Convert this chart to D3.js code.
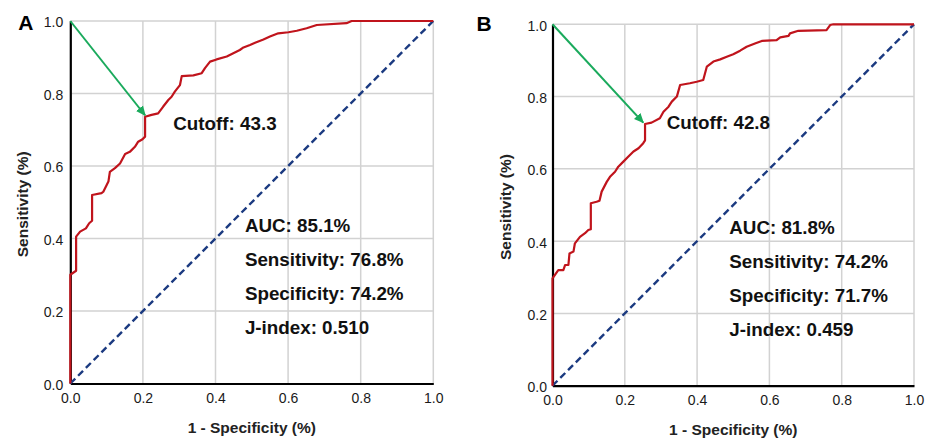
<!DOCTYPE html>
<meta charset="utf-8">
<script src="https://d3js.org/d3.v7.min.js"></script>
<style>
  body { margin: 0; background: #fff; }
  svg { display: block; font-family: "Liberation Sans", Arial, sans-serif; }
  .grid line { stroke: #d2d2d2; stroke-width: 1.5px; }
  .tick text { fill: #1a1a1a; font-size: 14px; }
</style>
<body>
<div id="chart"></div>
</body>
<script>
// values
const ticks = [0, 0.2, 0.4, 0.6, 0.8, 1.0];

// panel A ROC curve
const aFpr = [0, 0, .016, .016, .027, .043, .052, .06, .06, .086, .091, .105, .109, .123, .137, .151, .164, .178, .187, .199,
  .206, .206, .224, .242, .256, .270, .279, .288, .302, .307, .339, .362, .371, .385, .403, .431, .449, .467, .477, .495,
  .509, .532, .550, .573, .601, .624, .651, .679, .761, .775, 1];
const aTpr = [0, .30, .311, .405, .419, .428, .442, .449, .52, .525, .529, .557, .584, .594, .607, .633, .639, .653, .667, .674,
  .681, .736, .741, .745, .764, .782, .791, .805, .823, .848, .850, .856, .870, .888, .894, .902, .911, .920, .927, .934,
  .940, .949, .957, .966, .969, .973, .980, .989, .994, 1, 1];
const aCutoff = [0.206, 0.74];
const aStats = ["AUC: 85.1%", "Sensitivity: 76.8%", "Specificity: 74.2%", "J-index: 0.510"];
const aCutLabel = "Cutoff: 43.3";

// panel B ROC curve
const bFpr = [0, 0, .016, .030, .035, .044, .047, .058, .062, .076, .090, .099, .106, .106, .122, .130, .136, .150, .159, .173,
  .182, .196, .210, .224, .238, .251, .256, .256, .274, .297, .307, .321, .330, .344, .353, .380, .399, .417, .427, .445,
  .464, .482, .500, .519, .537, .560, .579, .620, .630, .653, .657, .680, .758, .768, .777, 1];
const bTpr = [0, .297, .320, .320, .334, .334, .366, .371, .394, .412, .422, .431, .433, .505, .509, .512, .537, .564, .578, .592,
  .606, .620, .634, .648, .657, .671, .679, .724, .728, .740, .758, .772, .786, .800, .832, .837, .841, .846, .883, .897,
  .903, .910, .917, .927, .938, .947, .954, .956, .964, .968, .975, .982, .984, .998, 1, 1];
const bCutoff = [0.251, 0.728];
const bStats = ["AUC: 81.8%", "Sensitivity: 74.2%", "Specificity: 71.7%", "J-index: 0.459"];
const bCutLabel = "Cutoff: 42.8";

const W = 928, H = 441;

const svg = d3.select("#chart").append("svg")
  .attr("width", W)
  .attr("height", H);

svg.append("defs").append("marker")
  .attr("id", "arrow")
  .attr("viewBox", "0 -5 10 10")
  .attr("refX", 9)
  .attr("refY", 0)
  .attr("markerUnits", "userSpaceOnUse")
  .attr("markerWidth", 10)
  .attr("markerHeight", 10)
  .attr("orient", "auto")
  .append("path")
  .attr("d", "M0,-4.5L10,0L0,4.5Z")
  .attr("fill", "#1aaa5c");

function drawPanel(p) {
  const g = svg.append("g").attr("transform", `translate(${p.left},${p.top})`);
  const x = d3.scaleLinear().domain([0, 1]).range([0, p.w]);
  const y = d3.scaleLinear().domain([0, 1]).range([p.h, 0]);

  // grid
  g.append("g").attr("class", "grid")
    .selectAll("line.v").data(ticks.slice(1)).join("line")
    .attr("x1", d => x(d)).attr("x2", d => x(d))
    .attr("y1", 0).attr("y2", p.h);
  g.append("g").attr("class", "grid")
    .selectAll("line.h").data(ticks.slice(1)).join("line")
    .attr("y1", d => y(d)).attr("y2", d => y(d))
    .attr("x1", 0).attr("x2", p.w);

  // axes
  const xAxis = g.append("g")
    .attr("transform", `translate(0,${p.h})`)
    .call(d3.axisBottom(x).tickValues(ticks).tickFormat(d3.format(".1f")).tickSize(0).tickPadding(9.5));
  xAxis.select(".domain").attr("stroke", "#000").attr("stroke-width", 2.2);
  xAxis.selectAll("text").attr("font-family", null).attr("font-size", null);

  const yAxis = g.append("g")
    .call(d3.axisLeft(y).tickValues(ticks).tickFormat(d3.format(".1f")).tickSize(0).tickPadding(p.ypad));
  yAxis.select(".domain").attr("stroke", "#000").attr("stroke-width", 2.2);
  yAxis.selectAll("text").attr("font-family", null).attr("font-size", null).attr("dy", "0.42em");

  // reference diagonal
  g.append("line")
    .attr("x1", x(0)).attr("y1", y(0))
    .attr("x2", x(1)).attr("y2", y(1))
    .attr("stroke", "#1b3a80")
    .attr("stroke-width", 2.4)
    .attr("stroke-dasharray", "7,4");

  // ROC curve
  const pts = p.fpr.map((f, i) => [f, p.tpr[i]]);
  g.append("path")
    .datum(pts)
    .attr("fill", "none")
    .attr("stroke", "#c0141c")
    .attr("stroke-width", 2.2)
    .attr("stroke-linejoin", "round")
    .attr("d", d3.line().x(d => x(d[0])).y(d => y(d[1])));

  // arrow to cutoff
  g.append("line")
    .attr("x1", x(0)).attr("y1", y(1))
    .attr("x2", x(p.cut[0])).attr("y2", y(p.cut[1]))
    .attr("stroke", "#1aaa5c")
    .attr("stroke-width", 2)
    .attr("marker-end", "url(#arrow)");

  g.append("text")
    .attr("x", p.cutX).attr("y", p.cutY)
    .attr("font-size", 18.8).attr("font-weight", "bold").attr("fill", "#111")
    .text(p.cutLabel);

  g.selectAll("text.stat").data(p.stats).join("text")
    .attr("class", "stat")
    .attr("x", x(p.statX))
    .attr("y", (d, i) => y(0.419) + i * 34)
    .attr("font-size", 18.8).attr("font-weight", "bold").attr("fill", "#111")
    .text(d => d);

  // titles
  g.append("text")
    .attr("transform", `translate(${p.ytitleX},${p.h / 2 + 2}) rotate(-90)`)
    .attr("text-anchor", "middle")
    .attr("font-size", 15.5).attr("font-weight", "bold").attr("fill", "#222")
    .text("Sensitivity (%)");

  g.append("text")
    .attr("x", p.w / 2).attr("y", p.h + 49.5)
    .attr("text-anchor", "middle")
    .attr("font-size", 15.5).attr("font-weight", "bold").attr("fill", "#222")
    .text("1 - Specificity (%)");

  g.append("text")
    .attr("x", p.labX).attr("y", p.labY)
    .attr("font-size", 21).attr("font-weight", "bold").attr("fill", "#000")
    .text(p.label);
}

drawPanel({ label: "A", left: 70.3, top: 21, w: 363, h: 362.5, ypad: 7,
  fpr: aFpr, tpr: aTpr, cut: aCutoff, cutLabel: aCutLabel, stats: aStats,
  cutX: 103, cutY: 109, statX: 0.481, ytitleX: -42.5, labX: -52, labY: 9 });

drawPanel({ label: "B", left: 552.5, top: 24.3, w: 361.5, h: 361.4, ypad: 5.5,
  fpr: bFpr, tpr: bTpr, cut: bCutoff, cutLabel: bCutLabel, stats: bStats,
  cutX: 114.2, cutY: 105, statX: 0.489, ytitleX: -41.5, labX: -76, labY: 6.7 });
</script>
